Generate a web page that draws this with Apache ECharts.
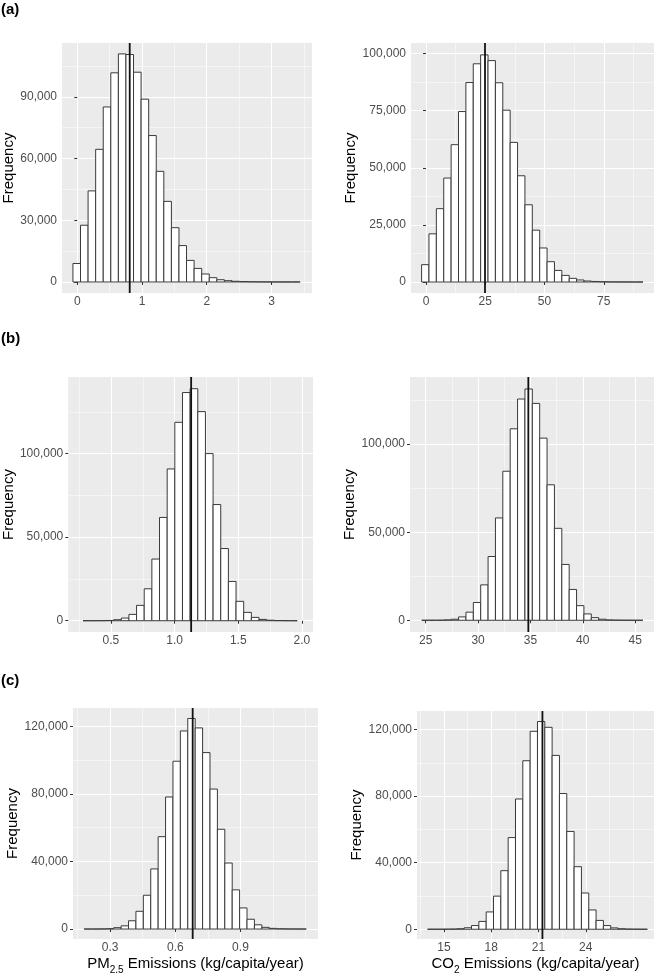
<!DOCTYPE html>
<html><head><meta charset="utf-8">
<script src="https://cdn.jsdelivr.net/npm/echarts@6/dist/echarts.min.js"></script>
<style>html,body{margin:0;padding:0;background:#fff}#c{width:661px;height:976px}</style>
</head><body><div id="c"></div>
<script>
// ---------- DATA ----------
// (a) left: PM2.5, 30 bins
const aPmCounts = [9000, 27600, 44300, 64500, 85100, 101700, 110900, 110600, 102000, 88900, 71200, 53800, 39200, 26400, 17700, 10500, 6600, 3900, 2100, 1100, 650, 350, 200, 120, 70, 40, 20, 10, 5, 3];
const aPmBinStart = -0.067, aPmBinWidth = 0.117, aPmMean = 0.81;
const aPmXTicks = [0, 1, 2, 3], aPmXMinor = [0.5, 1.5, 2.5, 3.5];
const aPmYTicks = [0, 30000, 60000, 90000], aPmYMinor = [15000, 45000, 75000, 105000];
const aPmXRange = [-0.236, 3.626], aPmYRange = [-5350, 116200];

// (a) right: CO2
const aCoCounts = [7600, 21100, 32100, 45500, 60100, 74600, 87300, 95500, 99400, 96900, 87200, 75200, 61100, 46500, 33800, 22700, 14900, 8900, 5100, 2900, 1600, 900, 450, 250, 150, 80, 50, 30, 15, 10];
const aCoBinStart = -1.85, aCoBinWidth = 3.114, aCoMean = 24.9;
const aCoXTicks = [0, 25, 50, 75], aCoXMinor = [12.5, 37.5, 62.5, 87.5];
const aCoYTicks = [0, 25000, 50000, 75000, 100000], aCoYMinor = [12500, 37500, 62500, 87500];
const aCoXRange = [-6.32, 96.2], aCoYRange = [-4800, 104600];

// (b) left: PM2.5, 28 bins
const bPmCounts = [10, 20, 50, 150, 600, 1600, 3800, 9200, 19100, 36900, 61800, 90800, 118700, 136500, 138800, 125100, 100000, 69500, 43200, 23500, 11600, 5000, 2000, 800, 300, 100, 40, 10];
const bPmBinStart = 0.2806, bPmBinWidth = 0.0601, bPmMean = 1.13;
const bPmXTicks = [0.5, 1.0, 1.5, 2.0], bPmXMinor = [0.25, 0.75, 1.25, 1.75];
const bPmYTicks = [0, 50000, 100000], bPmYMinor = [25000, 75000, 125000];
const bPmXRange = [0.165, 2.087], bPmYRange = [-6740, 145800];

// (b) right: CO2
const bCoCounts = [0, 10, 30, 200, 600, 1900, 4600, 10100, 20100, 36200, 58100, 84600, 108700, 125600, 131300, 123100, 103400, 76900, 52200, 31700, 17500, 8300, 3600, 1500, 600, 200, 80, 30, 10, 0];
const bCoBinStart = 24.62, bCoBinWidth = 0.704, bCoMean = 34.8;
const bCoXTicks = [25, 30, 35, 40, 45], bCoXMinor = [27.5, 32.5, 37.5, 42.5];
const bCoYTicks = [0, 50000, 100000], bCoYMinor = [25000, 75000, 125000];
const bCoXRange = [23.5, 46.8], bCoYRange = [-6660, 138100];

// (c) left: PM2.5
const cPmCounts = [0, 10, 50, 200, 800, 1900, 4900, 10500, 20000, 35600, 54700, 78200, 99400, 117300, 124700, 119100, 104500, 82900, 59100, 39100, 23200, 12500, 5800, 2500, 1000, 400, 150, 50, 20, 10];
const cPmBinStart = 0.18, cPmBinWidth = 0.0341, cPmMean = 0.68;
const cPmXTicks = [0.3, 0.6, 0.9], cPmXMinor = [0.15, 0.45, 0.75, 1.05, 1.2];
const cPmYTicks = [0, 40000, 80000, 120000], cPmYMinor = [20000, 60000, 100000];
const cPmXRange = [0.129, 1.257], cPmYRange = [-5900, 130900];

// (c) right: CO2
const cCoCounts = [0, 10, 30, 100, 300, 900, 2200, 4700, 10400, 19900, 35200, 55100, 78300, 101300, 119000, 124900, 121400, 104500, 81600, 58800, 37600, 21800, 11600, 5300, 2200, 800, 300, 100, 40, 10];
const cCoBinStart = 13.96, cCoBinWidth = 0.465, cCoMean = 21.25;
const cCoXTicks = [15, 18, 21, 24], cCoXMinor = [13.5, 16.5, 19.5, 22.5, 25.5, 27];
const cCoYTicks = [0, 40000, 80000, 120000], cCoYMinor = [20000, 60000, 100000];
const cCoXRange = [13.29, 28.33], cCoYRange = [-5870, 131200];

const panelLabels = ['(a)', '(b)', '(c)'];
const yTitle = 'Frequency';
const xTitlePm = '{n|PM}{s|2.5}{n| Emissions (kg/capita/year)}';
const xTitleCo = '{n|CO}{s|2}{n| Emissions (kg/capita/year)}';

// ---------- LAYOUT ----------
const FONT = '"Liberation Sans", Arial, sans-serif';
const panels = [
  {counts: aPmCounts, start: aPmBinStart, width: aPmBinWidth, mean: aPmMean, xt: aPmXTicks, xm: aPmXMinor, yt: aPmYTicks, ym: aPmYMinor, xr: aPmXRange, yr: aPmYRange, dec: 0,
   grid: {left: 62, top: 43, width: 250, height: 250}, yGap: 46, xName: null},
  {counts: aCoCounts, start: aCoBinStart, width: aCoBinWidth, mean: aCoMean, xt: aCoXTicks, xm: aCoXMinor, yt: aCoYTicks, ym: aCoYMinor, xr: aCoXRange, yr: aCoYRange, dec: 0,
   grid: {left: 411, top: 43, width: 243, height: 250}, yGap: 50, xName: null},
  {counts: bPmCounts, start: bPmBinStart, width: bPmBinWidth, mean: bPmMean, xt: bPmXTicks, xm: bPmXMinor, yt: bPmYTicks, ym: bPmYMinor, xr: bPmXRange, yr: bPmYRange, dec: 1,
   grid: {left: 68, top: 377, width: 245, height: 255}, yGap: 51, xName: null},
  {counts: bCoCounts, start: bCoBinStart, width: bCoBinWidth, mean: bCoMean, xt: bCoXTicks, xm: bCoXMinor, yt: bCoYTicks, ym: bCoYMinor, xr: bCoXRange, yr: bCoYRange, dec: 0,
   grid: {left: 410, top: 377, width: 244, height: 255}, yGap: 49.5, xName: null},
  {counts: cPmCounts, start: cPmBinStart, width: cPmBinWidth, mean: cPmMean, xt: cPmXTicks, xm: cPmXMinor, yt: cPmYTicks, ym: cPmYMinor, xr: cPmXRange, yr: cPmYRange, dec: 1,
   grid: {left: 73, top: 708, width: 245, height: 235}, yGap: 51, xName: xTitlePm},
  {counts: cCoCounts, start: cCoBinStart, width: cCoBinWidth, mean: cCoMean, xt: cCoXTicks, xm: cCoXMinor, yt: cCoYTicks, ym: cCoYMinor, xr: cCoXRange, yr: cCoYRange, dec: 0,
   grid: {left: 417, top: 711, width: 237, height: 233}, yGap: 51, xName: xTitleCo}
];

function thousands(v) { return String(Math.round(v)).replace(/\B(?=(\d{3})+(?!\d))/g, ','); }

const option = {
  backgroundColor: '#ffffff', animation: false,
  title: [
    {text: panelLabels[0], left: 1, top: 2},
    {text: panelLabels[1], left: 1, top: 331},
    {text: panelLabels[2], left: 1, top: 673}
  ].map(t => Object.assign(t, {padding: 0, textStyle: {fontFamily: FONT, fontWeight: 'bold', fontSize: 15, color: '#000'}})),
  grid: [], xAxis: [], yAxis: [], series: []
};

panels.forEach((p, i) => {
  option.grid.push(Object.assign({show: true, backgroundColor: '#EBEBEB', borderWidth: 0, containLabel: false}, p.grid));
  const xi = option.xAxis.length, yi = option.yAxis.length;
  const xMajor = {
    type: 'value', gridIndex: i, position: 'bottom', min: p.xr[0], max: p.xr[1],
    axisLine: {show: false},
    axisTick: {show: true, length: 3, lineStyle: {color: '#333', width: 1}, customValues: p.xt},
    axisLabel: {customValues: p.xt, formatter: v => v.toFixed(p.dec), color: '#4D4D4D', fontSize: 12, margin: 3, fontFamily: FONT},
    splitLine: {show: true, lineStyle: {color: '#FFFFFF', width: 1}}
  };
  if (p.xName) {
    Object.assign(xMajor, {
      name: p.xName, nameLocation: 'middle', nameGap: 17,
      nameTextStyle: {fontFamily: FONT, color: '#000', fontSize: 15,
        rich: {
          n: {fontFamily: FONT, color: '#000', fontSize: 15, lineHeight: 17, verticalAlign: 'top'},
          s: {fontFamily: FONT, color: '#000', fontSize: 10, lineHeight: 10, verticalAlign: 'top', padding: [9, 0, 0, 0]}
        }}
    });
  }
  option.xAxis.push(xMajor);
  option.xAxis.push({
    type: 'value', gridIndex: i, position: 'top', min: p.xr[0], max: p.xr[1],
    axisLine: {show: false}, axisLabel: {show: false},
    axisTick: {show: false, customValues: p.xm},
    splitLine: {show: true, lineStyle: {color: '#FFFFFF', width: 0.5}}
  });
  option.yAxis.push({
    type: 'value', gridIndex: i, position: 'left', min: p.yr[0], max: p.yr[1],
    axisLine: {show: false},
    axisTick: {show: true, length: 3, lineStyle: {color: '#333', width: 1}, customValues: p.yt},
    axisLabel: {customValues: p.yt, formatter: thousands, color: '#4D4D4D', fontSize: 12, margin: 5, fontFamily: FONT},
    splitLine: {show: true, lineStyle: {color: '#FFFFFF', width: 1}},
    name: yTitle, nameLocation: 'middle', nameGap: p.yGap,
    nameTextStyle: {fontFamily: FONT, color: '#000', fontSize: 15}
  });
  option.yAxis.push({
    type: 'value', gridIndex: i, position: 'right', min: p.yr[0], max: p.yr[1],
    axisLine: {show: false}, axisLabel: {show: false},
    axisTick: {show: false, customValues: p.ym},
    splitLine: {show: true, lineStyle: {color: '#FFFFFF', width: 0.5}}
  });
  option.series.push({
    type: 'custom', xAxisIndex: xi, yAxisIndex: yi, z: 2,
    encode: {x: [0, 1], y: 2},
    data: p.counts.map((c, k) => [p.start + k * p.width, p.start + (k + 1) * p.width, c]),
    renderItem: function (params, api) {
      const a = api.coord([api.value(0), api.value(2)]);
      const b = api.coord([api.value(1), 0]);
      return {type: 'rect', shape: {x: a[0], y: a[1], width: b[0] - a[0], height: b[1] - a[1]},
        style: {fill: '#FFFFFF', stroke: '#3a3a3a', lineWidth: 1}};
    }
  });
  option.series.push({
    type: 'line', xAxisIndex: xi, yAxisIndex: yi, z: 5, symbol: 'none', silent: true,
    data: [[p.mean, p.yr[0]], [p.mean, p.yr[1]]],
    lineStyle: {color: '#111', width: 1.8}
  });
});

const chart = echarts.init(document.getElementById('c'), null, {renderer: 'canvas'});
chart.setOption(option);
</script>
</body></html>
